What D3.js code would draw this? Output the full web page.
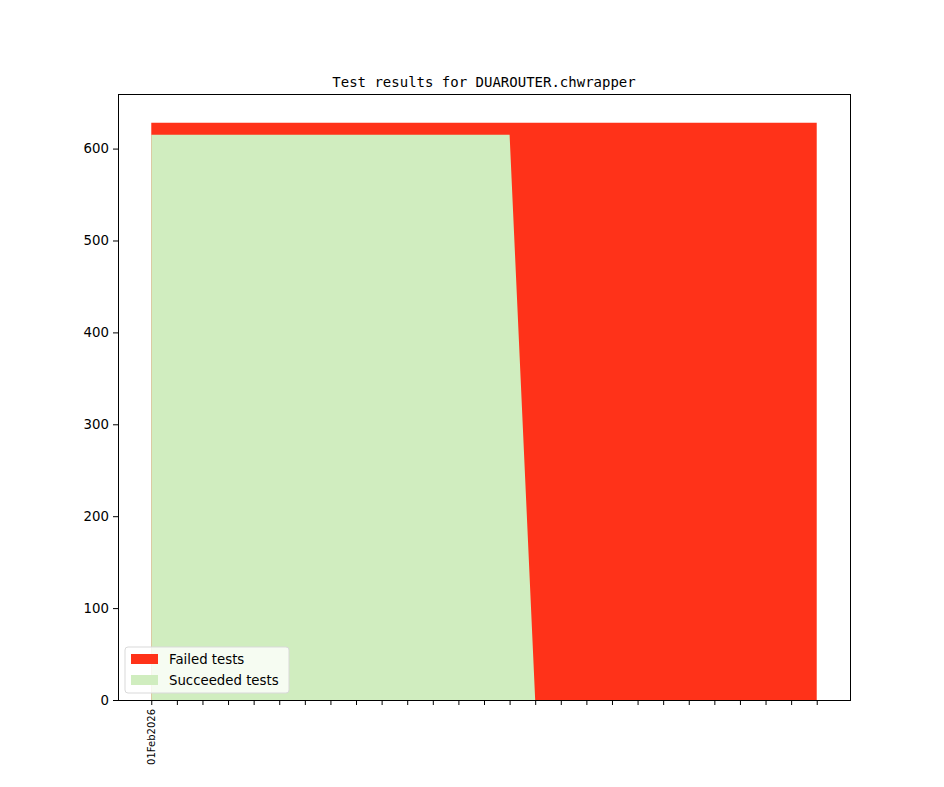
<!DOCTYPE html>
<html>
<head>
<meta charset="utf-8">
<script src="https://cdn.jsdelivr.net/npm/d3@7"></script>
<style>
  body { margin: 0; background: #fff; }
  svg { display: block; }
</style>
</head>
<body>
<div id="chart"></div>
<script>
/* test results stack chart, one point per run */

var runs = d3.range(27);
var succeeded = [615, 615, 615, 615, 615, 615, 615, 615, 615, 615, 615, 615, 615, 615, 615,
                 0, 0, 0, 0, 0, 0, 0, 0, 0, 0, 0, 0];
var failed = [13, 13, 13, 13, 13, 13, 13, 13, 13, 13, 13, 13, 13, 13, 13,
              628, 628, 628, 628, 628, 628, 628, 628, 628, 628, 628, 628];
var tickLabels = ["01Feb2026", "", "", "", "", "", "", "", "", "", "", "", "", "",
                  "", "", "", "", "", "", "", "", "", "", "", "", ""];
var yTicks = [0, 100, 200, 300, 400, 500, 600];

var W = 944, H = 787,
    margin = { top: 94, right: 94, bottom: 87, left: 118 },
    width = W - margin.left - margin.right,
    height = H - margin.top - margin.bottom;

var data = runs.map(function(r, i) {
  return { run: r, ok: succeeded[i], fail: failed[i], total: succeeded[i] + failed[i] };
});

var xPad = (runs.length - 1) * 0.05;
var x = d3.scaleLinear()
    .domain([runs[0] - xPad, runs[runs.length - 1] + xPad])
    .range([0, width]);

var y = d3.scaleLinear()
    .domain([0, d3.max(data, function(d) { return d.total; }) * 1.05])
    .range([height, 0]);

var svg = d3.select('#chart').append('svg')
    .attr('width', W)
    .attr('height', H);

svg.append('text')
    .attr('x', margin.left + width / 2)
    .attr('y', margin.top - 7.5)
    .attr('text-anchor', 'middle')
    .style('font-family', '"DejaVu Sans Mono", monospace')
    .style('font-size', '14px')
    .text('Test results for DUAROUTER.chwrapper');

var g = svg.append('g')
    .attr('transform', 'translate(' + margin.left + ',' + margin.top + ')');

var failArea = d3.area()
    .x(function(d) { return x(d.run); })
    .y0(function(d) { return y(0); })
    .y1(function(d) { return y(d.total); });

var okArea = d3.area()
    .x(function(d) { return x(d.run); })
    .y0(function(d) { return y(0); })
    .y1(function(d) { return y(d.ok); });

g.append('path')
    .datum(data)
    .attr('fill', '#ff3219')
    .attr('d', failArea);

g.append('path')
    .datum(data)
    .attr('fill', '#d0edbf')
    .attr('d', okArea);

// axes
var yAxis = g.append('g')
    .call(d3.axisLeft(y).tickValues(yTicks).tickSize(5).tickPadding(4));

var xAxis = g.append('g')
    .attr('transform', 'translate(0,' + height + ')')
    .call(d3.axisBottom(x).tickValues(runs).tickSize(5)
      .tickFormat(function(d, i) { return tickLabels[i]; }));

xAxis.selectAll('text')
    .attr('transform', 'rotate(-90)')
    .attr('x', -9)
    .attr('y', 0)
    .attr('dy', '0.35em')
    .attr('text-anchor', 'end')
    .style('font-size', '10px');

[xAxis, yAxis].forEach(function(a) {
  a.select('.domain').remove();
  a.selectAll('line').attr('stroke', '#000').attr('stroke-width', 1);
  a.selectAll('text')
    .attr('fill', '#000')
    .style('font-family', '"DejaVu Sans", sans-serif');
});
yAxis.selectAll('text').style('font-size', '13.3px');

g.append('rect')
    .attr('x', 0.5)
    .attr('y', 0.5)
    .attr('width', width)
    .attr('height', height)
    .attr('fill', 'none')
    .attr('stroke', '#000')
    .attr('stroke-width', 1);

// legend
var legendItems = [
  { label: 'Failed tests', color: '#ff3219' },
  { label: 'Succeeded tests', color: '#d0edbf' }
];

var legend = g.append('g')
    .attr('transform', 'translate(7,' + (height - 53) + ')');

legend.append('rect')
    .attr('width', 164)
    .attr('height', 46)
    .attr('rx', 3)
    .attr('fill', 'rgba(255,255,255,0.8)')
    .attr('stroke', '#d9d9d9')
    .attr('stroke-width', 1);

var li = legend.selectAll('g.item')
    .data(legendItems)
    .enter().append('g')
    .attr('class', 'item')
    .attr('transform', function(d, i) {
      return 'translate(6,' + (7 + i * 21) + ')';
    });

li.append('rect')
    .attr('width', 27)
    .attr('height', 10)
    .attr('fill', function(d) { return d.color; });

li.append('text')
    .attr('x', 38)
    .attr('y', 5)
    .attr('dy', '0.35em')
    .style('font-family', '"DejaVu Sans", sans-serif')
    .style('font-size', '13.3px')
    .attr('fill', '#000')
    .text(function(d) { return d.label; });
</script>
</body>
</html>
